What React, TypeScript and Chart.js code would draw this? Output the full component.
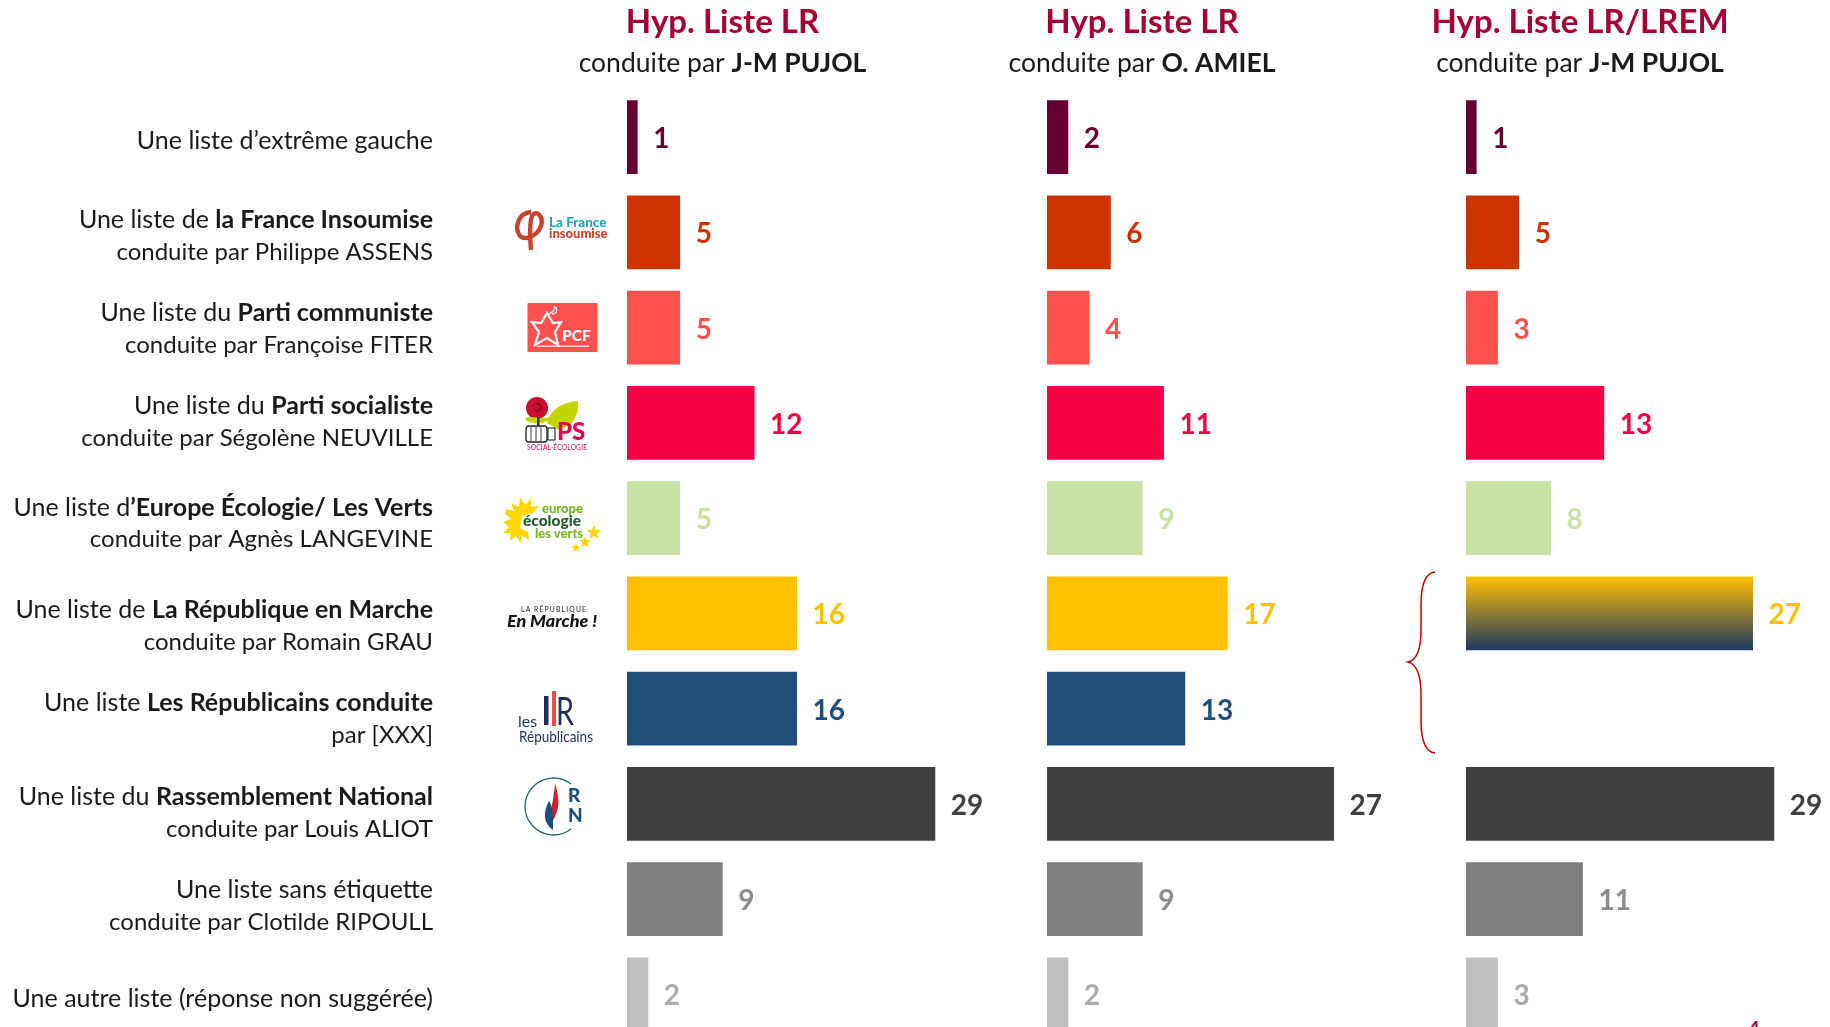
import React, { useEffect, useRef } from "react";
import { Chart, registerables } from "chart.js";

Chart.register(...registerables);

const FONT = "Lato, Carlito, sans-serif";

// Rows: **…** marks the bold part of a label, | separates its two lines
const categories = [
  "Une liste d’extrême gauche",
  "Une liste de **la France Insoumise**|conduite par Philippe ASSENS",
  "Une liste du **Parti communiste**|conduite par Françoise FITER",
  "Une liste du **Parti socialiste**|conduite par Ségolène NEUVILLE",
  "Une liste d**’Europe Écologie/ Les Verts**|conduite par Agnès LANGEVINE",
  "Une liste de **La République en Marche**|conduite par Romain GRAU",
  "Une liste **Les Républicains conduite**|par [XXX]",
  "Une liste du **Rassemblement National**|conduite par Louis ALIOT",
  "Une liste sans étiquette|conduite par Clotilde RIPOULL",
  "Une autre liste (réponse non suggérée)",
];

const seriesPujol = [1, 5, 5, 12, 5, 16, 16, 29, 9, 2];
const seriesAmiel = [2, 6, 4, 11, 9, 17, 13, 27, 9, 2];
const seriesLrem = [1, 5, 3, 13, 8, 27, null, 29, 11, 3];

const panelTitles = ["Hyp. Liste LR", "Hyp. Liste LR", "Hyp. Liste LR/LREM"];
const panelLeaders = ["J-M PUJOL", "O. AMIEL", "J-M PUJOL"];

const barColors = ["#660033", "#CC3300", "#FF5050", "#F20045", "#C9E2A3", "#FFC000", "#1F4E79", "#404040", "#7F7F7F", "#BFBFBF"];
const valueColors = ["#660033", "#CC3300", "#FF5050", "#F20045", "#C9E2A3", "#FFC000", "#1F4E79", "#404040", "#8C8C8C", "#ABABAB"];

// layout
const W = 1830, H = 1027, CANVAS_H = 1042;
const UNIT = 10.63;
const panelX = [627, 1047, 1466];
const panelMax = [39, 39, 34];
const titleCx = [722.5, 1142, 1580];
const labelRight = 433;
const labelNudge = [4, 3.5, 1.5, -1, 5.5, 13, 10.5, 9.5, 7, 5];
const BAND = 0.772;

const parseLine = (line: string) =>
  line.split("**").map((text, i) => ({ text, bold: i % 2 === 1 })).filter((s) => s.text);

function drawRich(ctx: CanvasRenderingContext2D, line: string, right: number, y: number, size: number) {
  const segs = parseLine(line);
  const fontOf = (b: boolean) => `${b ? "bold " : ""}${size}px ${FONT}`;
  let w = 0;
  segs.forEach((s) => { ctx.font = fontOf(s.bold); w += ctx.measureText(s.text).width; });
  let x = right - w;
  ctx.textAlign = "left";
  segs.forEach((s) => {
    ctx.font = fontOf(s.bold);
    ctx.fillText(s.text, x, y);
    x += ctx.measureText(s.text).width;
  });
}

const panelsPlugin = {
  id: "panels",
  afterLayout(chart: any) {
    ["x1", "x2", "x3"].forEach((id, i) => {
      const s = chart.scales[id];
      s.left = panelX[i];
      s.right = panelX[i] + panelMax[i] * UNIT;
      s.width = s.right - s.left;
      s.configure();
    });
  },
  afterDatasetsDraw(chart: any) {
    const ctx: CanvasRenderingContext2D = chart.ctx;
    const y = chart.scales.y;
    ctx.save();
    ctx.textBaseline = "middle";

    // value labels
    chart.data.datasets.forEach((ds: any, d: number) => {
      const meta = chart.getDatasetMeta(d);
      ctx.font = `bold 28px ${FONT}`;
      ctx.textAlign = "left";
      ds.data.forEach((v: number | null, i: number) => {
        if (v == null) return;
        ctx.fillStyle = valueColors[i];
        ctx.fillText(String(v), meta.data[i].x + 15.5, y.getPixelForValue(i) + 2);
      });
    });

    // row labels
    ctx.fillStyle = "#1A1A1A";
    categories.forEach((cat, i) => {
      const lines = cat.split("|");
      const cy = y.getPixelForValue(i) + labelNudge[i];
      lines.forEach((line, l) => {
        drawRich(ctx, line, labelRight, cy + (l - (lines.length - 1) / 2) * 32, l === 1 ? 24 : 25);
      });
    });

    // panel headers
    panelTitles.forEach((t, i) => {
      ctx.textAlign = "center";
      ctx.fillStyle = "#A50034";
      ctx.font = `bold 33px ${FONT}`;
      ctx.fillText(t, titleCx[i], 22);
      ctx.fillStyle = "#1A1A1A";
      const line = `conduite par **${panelLeaders[i]}**`;
      const segs = parseLine(line);
      let w = 0;
      segs.forEach((s) => { ctx.font = `${s.bold ? "bold " : ""}26.5px ${FONT}`; w += ctx.measureText(s.text).width; });
      drawRich(ctx, line, titleCx[i] + w / 2, 63.5, 26.5);
    });

    // brace joining LREM and LR
    ctx.strokeStyle = "#C00000";
    ctx.lineWidth = 1.5;
    ctx.beginPath();
    ctx.moveTo(1435, 572);
    ctx.bezierCurveTo(1425, 573, 1421, 585, 1421, 605);
    ctx.lineTo(1421, 630);
    ctx.bezierCurveTo(1421, 650, 1417, 660, 1408, 662);
    ctx.bezierCurveTo(1417, 664, 1421, 675, 1421, 695);
    ctx.lineTo(1421, 720);
    ctx.bezierCurveTo(1421, 740, 1425, 752, 1435, 753);
    ctx.stroke();

    // clipped page number at the bottom edge
    ctx.fillStyle = "#A50034";
    ctx.font = `bold 20px ${FONT}`;
    ctx.textAlign = "center";
    ctx.textBaseline = "top";
    ctx.fillText("4", 1754, 1020);
    ctx.restore();
  },
};

function Logos() {
  const T = (p: any) => <text fontFamily={FONT} {...p} />;
  return (
    <svg width={W} height={H} style={{ position: "absolute", left: 0, top: 0, pointerEvents: "none" }}>
      {/* La France insoumise */}
      <g fill="none" stroke="#C8432B" strokeWidth="4.400">
        <path d="M531 212 C518 213 514 228 520 236 C526 241 537 236 541 226 C544 216 536 209 532 216 C529 224 530 238 531 250" />
      </g>
      <T x="549" y="227" fontSize="13.500" fontWeight="900" fill="#1FA5BF">La France</T>
      <T x="549" y="238" fontSize="13" fontWeight="900" fill="#C8432B">insoumise</T>

      {/* PCF */}
      <rect x="527.5" y="303" width="70" height="49" rx="1" fill="#FF5050" />
      <path d="M547 313 L553 323 L561 322 L555 332 L558 345 L547 338 L535 345 L539 332 L532 322 L541 323 Z" fill="none" stroke="#fff" strokeWidth="2.2" />
      <path d="M549 314 C552 312 555 311 554 307 C558 307 558 314 552 314" fill="none" stroke="#fff" strokeWidth="1.3" />
      <T x="562" y="341" fontSize="15.500" fontWeight="900" fill="#fff">PCF</T>
      <rect x="537" y="345.500" width="52" height="1.5" fill="#fff" opacity=".75" />

      {/* PS */}
      <path d="M547 423 C550 408 565 402 578 401 C579 414 574 428 557 429 Z" fill="#C3D500" />
      <circle cx="537" cy="408" r="11" fill="#C8102E" />
      <path d="M532 406 C535 402 541 403 541 408 C540 412 534 412 534 408" fill="none" stroke="#7d0a1e" strokeWidth="1.2" />
      <path d="M525 419 C530 415 540 420 550 417 C550 424 530 426 525 419 Z" fill="#C3D500" />
      <rect x="537" y="417" width="2.5" height="10" fill="#333" />
      <rect x="526" y="426" width="21" height="16" rx="3" fill="#fff" stroke="#222" strokeWidth="1.3" />
      <path d="M531 427 V441 M536 427 V441 M541 427 V441" stroke="#222" strokeWidth="0.9" />
      <rect x="548" y="428" width="7" height="12" fill="#fff" stroke="#222" strokeWidth="1.1" />
      <T x="557" y="440" fontSize="24" fontWeight="900" fill="#E6004C">PS</T>
      <T x="527" y="450" fontSize="6.6" fill="#E6004C" textLength="60">SOCIAL-ÉCOLOGIE</T>

      {/* Europe Écologie Les Verts */}
      <path d="M506 509 L514 511 L511 503 L519 507 L520 498 L526 505 L531 498 L531 507 L539 506 L533 513 L522 516 L520 528 L528 532 L529 540 L521 535 L521 543 L516 536 L510 541 L511 533 L503 533 L509 527 L503 522 L511 519 L505 514 Z" fill="#FFD500" />
      <T x="542" y="513" fontSize="13" fontWeight="900" fill="#7AB51D">europe</T>
      <T x="523" y="526" fontSize="15.5" fontWeight="900" fill="#1E5B2A">écologie</T>
      <T x="535" y="538" fontSize="13" fontWeight="900" fill="#7AB51D">les verts</T>
      <g fill="#FFD500">
        <path d="M594 525 L596 530 L601 530 L597 534 L599 539 L594 536 L589 539 L591 534 L587 530 L592 530 Z" />
        <path d="M585 536 L586.5 540 L591 540 L587.5 543 L589 547 L585 545 L581 547 L582.5 543 L579 540 L583.500 540 Z" />
        <path d="M576 543 L577 546 L580 546 L578 548.500 L579 552 L576 550 L573 552 L574 548.500 L572 546 L575 546 Z" />
      </g>

      {/* La République En Marche */}
      <T x="521" y="612" fontSize="6.8" fill="#222" textLength="65">LA RÉPUBLIQUE</T>
      <T x="507" y="627" fontSize="17" fontWeight="900" fontStyle="italic" fill="#111" textLength="90" lengthAdjust="spacingAndGlyphs">En Marche !</T>

      {/* Les Républicains */}
      <rect x="544" y="696" width="4.500" height="29" fill="#1F2F5C" />
      <rect x="552" y="691" width="4" height="35" fill="#F04A4F" />
      <T x="556" y="725" fontSize="38" fill="#1F2F5C" textLength="18" lengthAdjust="spacingAndGlyphs">R</T>
      <T x="518" y="727" fontSize="16" fill="#1F2F5C">les</T>
      <T x="519" y="742" fontSize="15" fill="#1F2F5C" textLength="74" lengthAdjust="spacingAndGlyphs">Républicains</T>

      {/* Rassemblement National */}
      <path d="M571 784 A28.500 28.500 0 1 0 571 829" fill="none" stroke="#2C6178" strokeWidth="1.3" />
      <path d="M555 783 C559 797 561 808 552 822 C551 814 551 806 553 800 C553 795 555 790 555 783 Z" fill="#D01F30" />
      <path d="M549 801 C554 808 553 820 553 830 C543 823 543 812 549 801 Z" fill="#1D4E7A" />
      <T x="568" y="802" fontSize="19" fontWeight="900" fill="#1D4E7A">R</T>
      <T x="568" y="822" fontSize="19" fontWeight="900" fill="#1D4E7A">N</T>
    </svg>
  );
}

export default function App() {
  const ref = useRef<HTMLCanvasElement>(null);
  useEffect(() => {
    const barFill = (ctx: any) => {
      if (ctx.datasetIndex === 2 && ctx.dataIndex === 5) {
        const y = ctx.chart.scales.y;
        const c = y.getPixelForValue(5);
        const half = (((y.bottom - y.top) / categories.length) * BAND) / 2;
        const g = ctx.chart.ctx.createLinearGradient(0, c - half, 0, c + half);
        g.addColorStop(0, "#FFC000");
        g.addColorStop(1, "#1F3864");
        return g;
      }
      return barColors[ctx.dataIndex];
    };
    const xAxis = (max: number) => ({ type: "linear", display: false, min: 0, max, position: "bottom" });
    const common = { backgroundColor: barFill, grouped: false, categoryPercentage: BAND, barPercentage: 1, borderWidth: 0 };
    const chart = new Chart(ref.current!, {
      type: "bar",
      data: {
        labels: categories.map((c) => c.replace(/\*\*/g, "").replace("|", " ")),
        datasets: [
          { label: `${panelTitles[0]} ${panelLeaders[0]}`, data: seriesPujol, xAxisID: "x1", ...common },
          { label: `${panelTitles[1]} ${panelLeaders[1]}`, data: seriesAmiel, xAxisID: "x2", ...common },
          { label: `${panelTitles[2]} ${panelLeaders[2]}`, data: seriesLrem, xAxisID: "x3", ...common },
        ],
      },
      options: {
        indexAxis: "y",
        responsive: false,
        animation: false,
        layout: { padding: { left: panelX[0], top: 89.5, right: 0, bottom: 0 } },
        plugins: { legend: { display: false }, title: { display: false }, tooltip: { enabled: false } },
        scales: {
          y: { type: "category", display: false },
          x1: xAxis(panelMax[0]),
          x2: xAxis(panelMax[1]),
          x3: xAxis(panelMax[2]),
        },
      } as any,
      plugins: [panelsPlugin],
    } as any);
    return () => chart.destroy();
  }, []);
  return (
    <div style={{ position: "fixed", left: 0, top: 0, width: W, height: H, overflow: "hidden", background: "#fff" }}>
      <canvas ref={ref} width={W} height={CANVAS_H} style={{ display: "block" }} />
      <Logos />
    </div>
  );
}
